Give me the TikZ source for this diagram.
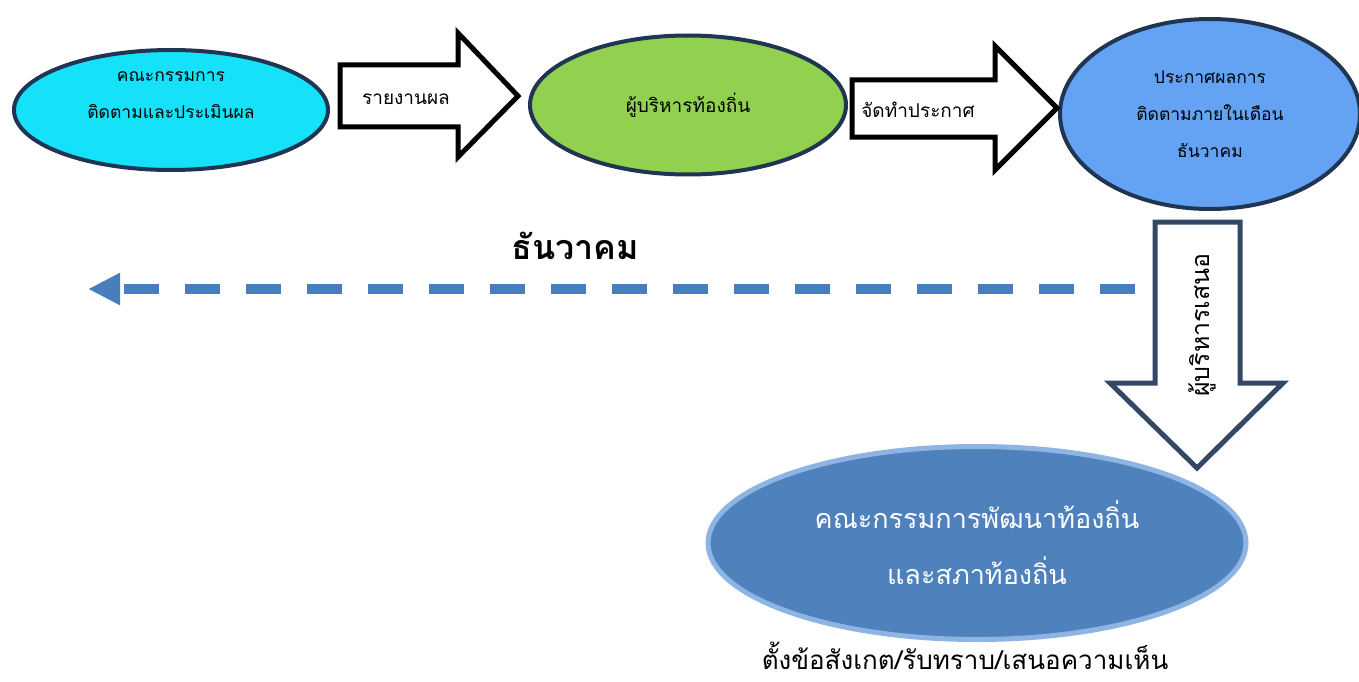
\documentclass[tikz,border=0pt]{standalone}
\usepackage{fontspec}
\newfontfamily\thaifont[Script=Thai]{Loma}
\usetikzlibrary{positioning,shapes.geometric,arrows.meta}

\definecolor{cyanfill}{RGB}{21,225,249}
\definecolor{greenfill}{RGB}{146,208,80}
\definecolor{bluefill}{RGB}{100,163,244}
\definecolor{navyline}{RGB}{31,53,82}
\definecolor{slateline}{RGB}{50,72,100}
\definecolor{steelfill}{RGB}{79,129,189}
\definecolor{paleline}{RGB}{142,180,227}
\definecolor{dashblue}{RGB}{74,126,187}

\tikzset{
  bubble/.style={ellipse, draw=navyline, line width=4pt, inner sep=0pt,
    align=center, font=\thaifont\fontsize{17.5}{37}\selectfont},
  blockarrow/.style={draw=black, fill=white, line width=5pt, line join=miter},
  arrowlabel/.style={inner sep=0pt, font=\thaifont\fontsize{19}{22}\selectfont}
}

\begin{document}
\begin{tikzpicture}[x=1pt,y=-1pt]
\useasboundingbox (0,0) rectangle (1359,682);
\clip (0,0) rectangle (1359,682);

% top row
\node[bubble, fill=cyanfill, minimum width=314pt, minimum height=120pt] (committee) at (171,110)
  {คณะกรรมการ\\ติดตามและประเมินผล\\[-8pt] };
\node[bubble, fill=greenfill, minimum width=316pt, minimum height=139pt,
  font=\thaifont\fontsize{19}{22}\selectfont] (executive) at (688,105) {ผู้บริหารท้องถิ่น};
\node[bubble, fill=bluefill, minimum width=300pt, minimum height=190pt] (announce) at (1210,114)
  {ประกาศผลการ\\ติดตามภายในเดือน\\ธันวาคม};

\draw[blockarrow] (340,65) -- (458,65) -- (458,33) -- (518,96) -- (458,157) -- (458,127) -- (340,127) -- cycle;
\node[arrowlabel] (report) at (406,99) {รายงานผล};
\draw[blockarrow] (852,80) -- (995,80) -- (995,46) -- (1057,108) -- (995,170) -- (995,137) -- (852,137) -- cycle;
\node[arrowlabel] (prepare) at (918,110) {จัดทำประกาศ};

% down arrow
\draw[blockarrow, draw=slateline] (1155,222) -- (1240,222) -- (1240,383) -- (1283,383) -- (1197,468)
  -- (1110,383) -- (1155,383) -- cycle;
\node[arrowlabel, rotate=90, font=\thaifont\fontsize{25}{28}\selectfont] (propose) at (1202,325) {ผู้บริหารเสนอ};

% dashed return
\coordinate (dashstart) at (1135,289);
\coordinate (dashend) at (88,289);
\draw[dashblue, line width=10pt, dash pattern=on 35pt off 26pt,
  -{Triangle[length=32pt,width=30pt]}] (dashstart) -- (dashend);
\node[inner sep=0pt, font=\thaifont\bfseries\fontsize{34}{38}\selectfont] (month) at (575,246) {ธันวาคม};

% council
\node[ellipse, fill=steelfill, draw=paleline, line width=5pt, minimum width=538pt, minimum height=193pt,
  inner sep=0pt, align=center, text=white, font=\thaifont\fontsize{27}{56}\selectfont] (council) at (977,543)
  {คณะกรรมการพัฒนาท้องถิ่น\\และสภาท้องถิ่น};
\node[inner sep=0pt, font=\thaifont\fontsize{26}{30}\selectfont] (remark) at (965,656)
  {ตั้งข้อสังเกต/รับทราบ/เสนอความเห็น};
\end{tikzpicture}
\end{document}
